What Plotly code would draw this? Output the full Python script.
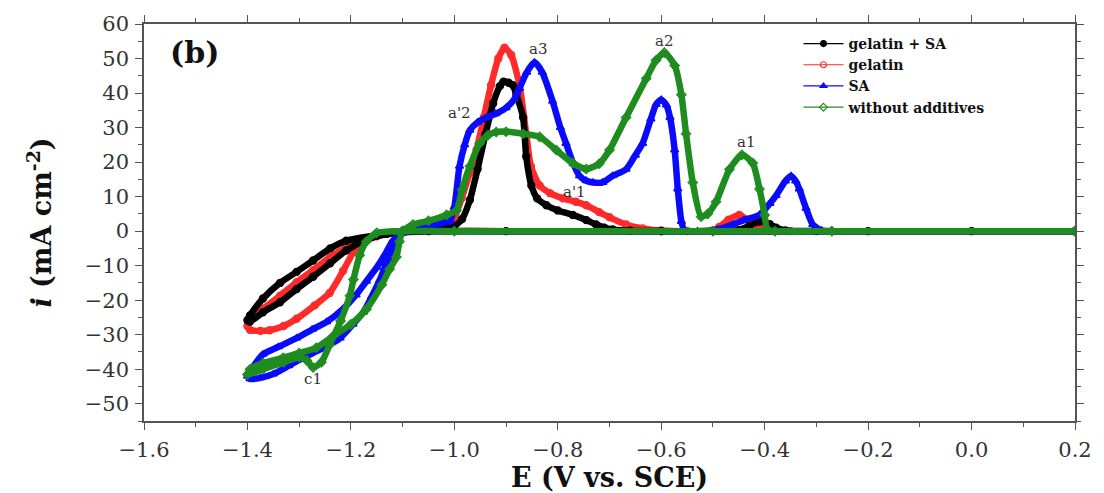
import plotly.graph_objects as go

# Cyclic voltammograms: potential E (V vs. SCE) and current density i (mA cm-2), in scan order

E_gel_sa = [0.2, -0.2, -0.6, -0.9, -1.05, -1.10, -1.15, -1.209, -1.24, -1.273, -1.305, -1.337, -1.37, -1.395, -1.40,
            -1.395, -1.37, -1.337, -1.305, -1.273, -1.24, -1.209, -1.17, -1.13, -1.10, -1.06, -1.03, -1.0, -0.985,
            -0.97, -0.955, -0.94, -0.925, -0.912, -0.905, -0.895, -0.887, -0.88, -0.867, -0.861, -0.851, -0.84,
            -0.822, -0.80, -0.771, -0.745, -0.726, -0.71, -0.694, -0.66, -0.6, -0.5, -0.45, -0.43, -0.41, -0.39,
            -0.378, -0.36, -0.3, 0.0, 0.2]
I_gel_sa = [0, 0, 0, 0, 0, -0.3, -1.2, -2.8, -5.0, -8.5, -11.8, -15.0, -19.5, -24.4, -25.8,
            -26.2, -23.5, -20.6, -16.8, -13.2, -9.3, -5.6, -2.5, -0.8, 0, 0.4, 0.8, 1.5, 3.5,
            9, 18, 28, 37, 42, 43.3, 43, 42.3, 39.5, 32.9, 21.6, 13.2, 9.5,
            7.5, 6.0, 4.7, 3.2, 1.9, 1.0, 0.5, 0.1, 0, 0, 0.3, 1.5, 2.8, 2.0,
            1.0, 0.2, 0, 0, 0]

E_gel = [0.2, -0.2, -0.6, -0.9, -1.05, -1.10, -1.15, -1.209, -1.24, -1.273, -1.305, -1.337, -1.37, -1.395, -1.40,
         -1.395, -1.375, -1.357, -1.33, -1.305, -1.27, -1.241, -1.215, -1.189, -1.16, -1.12, -1.08, -1.04, -1.006,
         -0.986, -0.97, -0.957, -0.943, -0.929, -0.915, -0.903, -0.89, -0.874, -0.861, -0.852, -0.835, -0.815,
         -0.79, -0.765, -0.745, -0.72, -0.70, -0.668, -0.636, -0.6, -0.55, -0.5, -0.488, -0.47, -0.449, -0.43,
         -0.41, -0.39, -0.35, 0.0, 0.2]
I_gel = [0, 0, 0, 0, 0, -0.3, -1.5, -4.7, -7.5, -11.3, -14.8, -18.7, -22.5, -25.4, -27.5,
         -28.6, -28.9, -28.7, -27.5, -25.4, -21.5, -17.9, -11.5, -4.7, -1.8, -0.4, 0, 0.5, 1.9,
         9.5, 17, 23.6, 33, 42.3, 50, 53.1, 51, 42.3, 28.2, 18.8, 13.2, 11,
         9.5, 8.5, 7.5, 5.5, 4.0, 1.9, 0.8, 0.2, 0, 0.2, 1.2, 3.3, 4.7, 3.0,
         1.0, 0.2, 0, 0, 0]

E_sa = [0.2, -0.5, -1.0, -1.08, -1.10, -1.119, -1.135, -1.15, -1.17, -1.19, -1.215, -1.247, -1.275, -1.305,
        -1.34, -1.37, -1.39, -1.40,
        -1.395, -1.375, -1.35, -1.32, -1.29, -1.255, -1.221, -1.196, -1.176, -1.16, -1.144, -1.128, -1.112,
        -1.10, -1.08, -1.05, -1.02, -1.009, -1.0, -0.99, -0.98, -0.97, -0.955, -0.938, -0.92, -0.90, -0.885,
        -0.874, -0.86, -0.845, -0.83, -0.81, -0.795, -0.784, -0.77, -0.758, -0.745, -0.732, -0.713, -0.694,
        -0.668, -0.65, -0.636, -0.62, -0.61, -0.60, -0.59, -0.583, -0.574, -0.568, -0.561, -0.555, -0.53,
        -0.49, -0.462, -0.44, -0.41, -0.39, -0.378, -0.36, -0.349, -0.34, -0.333, -0.32, -0.307, -0.29,
        -0.27, 0.2]
I_sa = [0, 0, 0, 0, -0.5, -2.8, -7, -10.5, -14.5, -18.5, -22.5, -26.3, -28.5, -31.0,
        -33.5, -35.7, -39.5, -42,
        -42.8, -42.5, -41.4, -39, -36.5, -34, -31.0, -27, -23.5, -19, -14.1, -8, -2.5,
        -0.5, 0.5, 1.5, 2.5, 2.8, 7, 18.8, 25, 29.2, 31.5, 32.9, 34, 35.7, 38,
        41.4, 46, 48.9, 46, 37.6, 30, 25.4, 19.5, 16.0, 14.6, 14.1, 14.1, 16.0,
        17.9, 22, 25.4, 32.5, 36.7, 38.1, 36.5, 32.9, 23.5, 12.2, 2.8, 0.3, 0,
        0.5, 1.9, 3.2, 4.7, 8, 10.3, 14.5, 16.0, 14.5, 12.2, 6.6, 1.9, 0.2,
        0, 0]

E_none = [0.2, -0.5, -1.0, -1.10, -1.15, -1.17, -1.183, -1.195, -1.202, -1.22, -1.241, -1.257, -1.273,
          -1.285, -1.30, -1.33, -1.37, -1.40,
          -1.395, -1.37, -1.331, -1.30, -1.267, -1.235, -1.20, -1.17, -1.14, -1.125, -1.112, -1.106, -1.10,
          -1.08, -1.05, -1.015, -0.996, -0.985, -0.97, -0.951, -0.935, -0.919, -0.9, -0.867, -0.835, -0.803,
          -0.771, -0.745, -0.72, -0.70, -0.668, -0.629, -0.61, -0.594, -0.574, -0.561, -0.552, -0.539,
          -0.523, -0.51, -0.494, -0.468, -0.444, -0.423, -0.41, -0.40, -0.395, -0.38, -0.27, 0.2]
I_none = [0, 0, 0, 0, -0.5, -3, -7, -14, -18.7, -26, -32.9, -38, -39.5,
          -37.5, -36.5, -38, -40, -41.5,
          -40, -38.2, -36.7, -35.3, -33.8, -30.5, -27, -22.6, -15.5, -11, -7.5, -3, 0,
          1.9, 3, 4.7, 6, 12, 18.8, 25.4, 27.8, 28.7, 28.8, 28.2, 27.3, 23.5,
          19.7, 18.0, 19.5, 23.5, 32.9, 44.2, 49.5, 51.7, 48.0, 39.5, 28.2, 14.1,
          4.2, 5, 8.5, 17.9, 22.1, 19.7, 12.2, 4.7, 0.5, 0, 0, 0]

series = [
    # name, E, i, colour, marker symbol
    ("gelatin + SA", E_gel_sa, I_gel_sa, "#000000", "circle"),
    ("gelatin", E_gel, I_gel, "#ff2a2a", "circle-open"),
    ("SA", E_sa, I_sa, "#0a0aff", "triangle-up"),
    ("without additives", E_none, I_none, "#1f8c1f", "diamond-open"),
]

SERIF = "DejaVu Serif"
fig = go.Figure()

# thin legend entries, in legend order
for name, E, I, col, sym in series:
    fig.add_trace(go.Scatter(
        x=[None], y=[None], name=name, mode="lines+markers",
        line=dict(color=col, width=1.2),
        marker=dict(symbol=sym, size=6, color=col, line=dict(color=col, width=1.2)),
        showlegend=True,
    ))

# curves, drawn so that green ends up on top
draw_order = [1, 0, 2, 3]
for k in draw_order:
    name, E, I, col, sym = series[k]
    fig.add_trace(go.Scatter(
        x=E, y=I, name=name, mode="lines+markers", showlegend=False,
        line=dict(color=col, width=6.5, shape="spline", smoothing=0.6),
        marker=dict(symbol=sym, size=7, color=col, line=dict(color=col, width=1.4)),
    ))

labels = [
    ("a3", -0.838, 52.7),
    ("a2", -0.594, 55.0),
    ("a1", -0.436, 25.9),
    ("a'2", -0.990, 34.3),
    ("a'1", -0.768, 11.3),
    ("c1", -1.273, -42.8),
]
for txt, ex, iy in labels:
    fig.add_annotation(x=ex, y=iy, text=txt, showarrow=False,
                       font=dict(family=SERIF, size=15, color="#333333"))

fig.add_annotation(x=-1.502, y=51.7, text="<b>(b)</b>", showarrow=False,
                   font=dict(family=SERIF, size=30, color="#111111"))

axis_common = dict(
    showline=True, linecolor="#555555", linewidth=1.6, mirror="ticks",
    ticks="outside", ticklen=7, tickwidth=1.4, tickcolor="#555555",
    showgrid=False, zeroline=False, ticklabelstandoff=2,
    tickfont=dict(family=SERIF, size=21, color="#333333"),
)

fig.update_xaxes(
    range=[-1.6, 0.2], dtick=0.2, tick0=-1.6, tickformat=".1f",
    minor=dict(ticks="outside", ticklen=4, dtick=0.1, tickcolor="#555555", tickwidth=1.2),
    title=dict(text="<b>E (V vs. SCE)</b>", font=dict(family=SERIF, size=27, color="#111111"), standoff=0),
    **axis_common,
)
fig.update_yaxes(
    range=[-55, 60], dtick=10, tick0=0,
    minor=dict(ticks="outside", ticklen=4, dtick=5, tickcolor="#555555", tickwidth=1.2),
    title=dict(text="<b><i>i</i> (mA cm<sup>-2</sup>)</b>", font=dict(family=SERIF, size=27, color="#111111"),
               standoff=25),
    **axis_common,
)

fig.update_layout(
    width=1104, height=493,
    margin=dict(l=144, r=28, t=24, b=61),
    paper_bgcolor="white", plot_bgcolor="white",
    legend=dict(x=0.703, y=0.99, xanchor="left", yanchor="top",
                bgcolor="rgba(255,255,255,0)", tracegroupgap=0, itemwidth=40,
                font=dict(family=SERIF, size=14, color="#111111", weight="bold")),
    showlegend=True,
)

fig.write_html("out.html")
